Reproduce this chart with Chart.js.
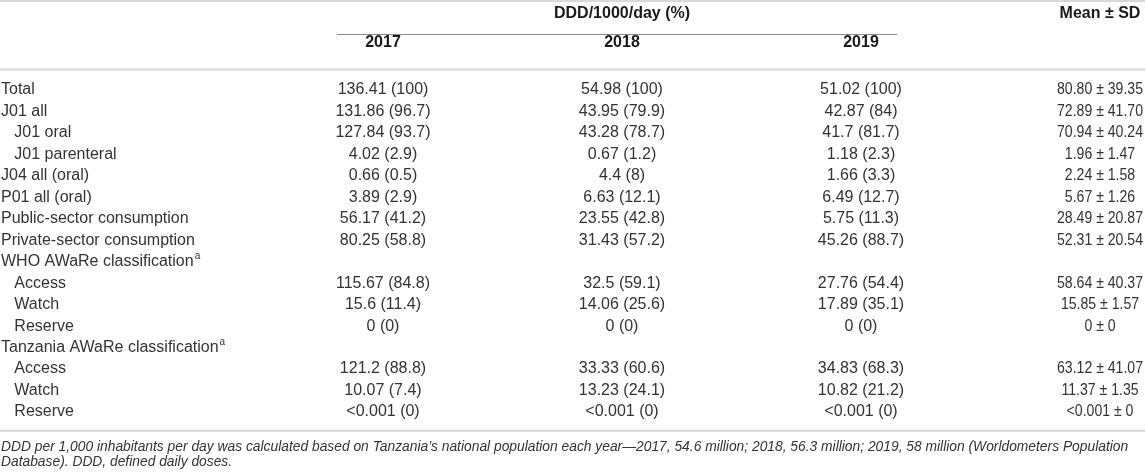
<!DOCTYPE html>
<html>
<head>
<meta charset="utf-8">
<script src="https://cdn.jsdelivr.net/npm/chart.js@4.4.1/dist/chart.umd.min.js"></script>
<style>
  html, body { margin: 0; padding: 0; background: #fff; }
  #wrap { width: 1145px; height: 476px; position: relative; }
</style>
</head>
<body>
<div id="wrap"><canvas id="tbl"></canvas></div>
<script>
// table rows (indent = sub-row)
const rowLabels = ['Total', 'J01 all', '   J01 oral', '   J01 parenteral', 'J04 all (oral)', 'P01 all (oral)',
  'Public-sector consumption', 'Private-sector consumption', 'WHO AWaRe classification',
  '   Access', '   Watch', '   Reserve', 'Tanzania AWaRe classification', '   Access', '   Watch', '   Reserve'];
const supRows = [8, 12]; // rows with superscript "a"

const columns = ['2017', '2018', '2019', 'Mean ± SD'];
const headerTop = ['', 'DDD/1000/day (%)', '', 'Mean ± SD'];
const headerBottom = ['2017', '2018', '2019', ''];

const ddd2017 = ['136.41 (100)', '131.86 (96.7)', '127.84 (93.7)', '4.02 (2.9)', '0.66 (0.5)', '3.89 (2.9)',
  '56.17 (41.2)', '80.25 (58.8)', null, '115.67 (84.8)', '15.6 (11.4)', '0 (0)', null,
  '121.2 (88.8)', '10.07 (7.4)', '<0.001 (0)'];
const ddd2018 = ['54.98 (100)', '43.95 (79.9)', '43.28 (78.7)', '0.67 (1.2)', '4.4 (8)', '6.63 (12.1)',
  '23.55 (42.8)', '31.43 (57.2)', null, '32.5 (59.1)', '14.06 (25.6)', '0 (0)', null,
  '33.33 (60.6)', '13.23 (24.1)', '<0.001 (0)'];
const ddd2019 = ['51.02 (100)', '42.87 (84)', '41.7 (81.7)', '1.18 (2.3)', '1.66 (3.3)', '6.49 (12.7)',
  '5.75 (11.3)', '45.26 (88.7)', null, '27.76 (54.4)', '17.89 (35.1)', '0 (0)', null,
  '34.83 (68.3)', '10.82 (21.2)', '<0.001 (0)'];
const meanSd = ['80.80 ± 39.35', '72.89 ± 41.70', '70.94 ± 40.24', '1.96 ± 1.47', '2.24 ± 1.58', '5.67 ± 1.26',
  '28.49 ± 20.87', '52.31 ± 20.54', null, '58.64 ± 40.37', '15.85 ± 1.57', '0 ± 0', null,
  '63.12 ± 41.07', '11.37 ± 1.35', '<0.001 ± 0'];

const footnote = [
  'DDD per 1,000 inhabitants per day was calculated based on Tanzania\u2019s national population each year\u20142017, 54.6 million; 2018, 56.3 million; 2019, 58 million (Worldometers Population',
  'Database). DDD, defined daily doses.'
];

const FONT = '"Liberation Sans", Arial, sans-serif';
const TEXT = '#333333';
const RULE = '#d8d8d8';

const cols = [ddd2017, ddd2018, ddd2019, meanSd];
const datasets = cols.map((vals, c) => ({
  label: columns[c],
  texts: vals,
  squeeze: c === 3 ? 0.88 : 1,
  data: vals.map((v, i) => ({ x: c, y: i })),
  pointRadius: 0,
  pointHoverRadius: 0
}));

// draws cell text at the point positions, the rules and the footnote
const tablePlugin = {
  id: 'tablePlugin',
  afterDraw(chart) {
    const ctx = chart.ctx;
    const ca = chart.chartArea;
    const xs = chart.scales.x, ys = chart.scales.y;
    const W = chart.width;
    ctx.save();

    ctx.font = '16px ' + FONT;
    ctx.fillStyle = TEXT;
    ctx.textAlign = 'center';
    ctx.textBaseline = 'middle';
    chart.data.datasets.forEach((ds, d) => {
      const meta = chart.getDatasetMeta(d);
      meta.data.forEach((pt, i) => {
        const t = ds.texts[i];
        if (t == null) return;
        if (ds.squeeze < 1) ctx.fillText(t, pt.x, pt.y, ctx.measureText(t).width * ds.squeeze);
        else ctx.fillText(t, pt.x, pt.y);
      });
    });

    // superscript a
    ctx.textAlign = 'left';
    supRows.forEach(r => {
      ctx.font = '16px ' + FONT;
      const w = ctx.measureText(rowLabels[r]).width;
      const y = ys.getPixelForValue(r);
      ctx.font = '10px ' + FONT;
      ctx.fillText('a', ys.left + w + 1, y - 5);
    });

    // rules
    const rowH = ys.getPixelForValue(1) - ys.getPixelForValue(0);
    ctx.strokeStyle = RULE;
    ctx.lineWidth = 2;
    const hline = (y, x0, x1) => { ctx.beginPath(); ctx.moveTo(x0, y); ctx.lineTo(x1, y); ctx.stroke(); };
    hline(1, 0, W);
    hline(ca.top - rowH + 1, 0, W);
    hline(ca.bottom + rowH * 0.87, 0, W);
    ctx.strokeStyle = '#8a8a8a';
    ctx.lineWidth = 1;
    hline(34.5, xs.getPixelForValue(0) - 46, xs.getPixelForValue(2) + 36);

    // footnote, fitted to the table width
    ctx.font = 'italic 16px ' + FONT;
    const fs = 16 * 1128 / ctx.measureText(footnote[0]).width;
    ctx.font = 'italic ' + fs.toFixed(2) + 'px ' + FONT;
    ctx.fillStyle = TEXT;
    ctx.textBaseline = 'middle';
    footnote.forEach((line, k) => ctx.fillText(line, 1, ca.bottom + 35 + k * 15));
    ctx.restore();
  }
};

new Chart(document.getElementById('tbl'), {
  type: 'scatter',
  data: { datasets: datasets },
  options: {
    responsive: true,
    maintainAspectRatio: false,
    animation: false,
    parsing: false,
    events: [],
    layout: { padding: { left: 1, right: 45, top: 0, bottom: 64 } },
    plugins: { legend: { display: false }, tooltip: { enabled: false } },
    scales: {
      x: {
        type: 'category',
        labels: columns,
        position: 'top',
        offset: false,
        grid: { display: false },
        border: { display: false },
        ticks: {
          autoSkip: false,
          maxRotation: 0,
          padding: 24.5,
          color: '#1a1a1a',
          font: { family: FONT, size: 16, weight: 'bold', lineHeight: '29px' },
          callback: (v, i) => [headerTop[i], headerBottom[i]]
        },
        afterFit: s => { s.height = 90; s.paddingLeft = 0; s.paddingRight = 0; }
      },
      y: {
        type: 'category',
        labels: rowLabels,
        offset: false,
        grid: { display: false },
        border: { display: false },
        ticks: {
          autoSkip: false,
          crossAlign: 'far',
          color: TEXT,
          font: { family: FONT, size: 16 }
        },
        afterFit: s => { s.width = 382; s.paddingTop = 0; s.paddingBottom = 0; }
      }
    }
  },
  plugins: [tablePlugin]
});
</script>
</body>
</html>
